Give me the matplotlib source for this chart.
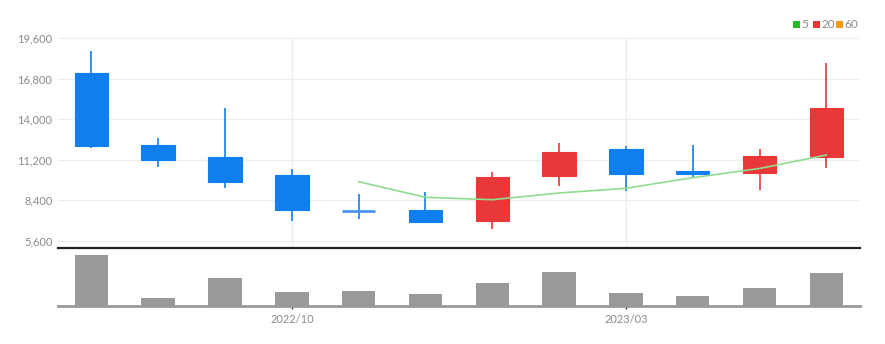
import matplotlib
matplotlib.use("Agg")
import matplotlib.pyplot as plt
from matplotlib.patches import Rectangle

months = ["2022/07", "2022/08", "2022/09", "2022/10", "2022/11", "2022/12",
          "2023/01", "2023/02", "2023/03", "2023/04", "2023/05", "2023/06"]
opens  = [17165, 12241, 11414, 10130, 7700, 7758, 6958, 10082, 11944, 10406, 10289, 11372]
closes = [12172, 11186, 9648, 7737, 7650, 6889, 10034, 11758, 10241, 10200, 11441, 14772]
highs  = [18724, 12724, 14793, 10565, 8820, 9000, 10358, 12379, 12151, 12200, 11944, 17896]
lows   = [12034, 10724, 9234, 7000, 7096, 6820, 6406, 9393, 9048, 9965, 9117, 10655]
ma5    = [None, None, None, None, 9689, 8613, 8447, 8910, 9234, 9965, 10600, 11531]
volumes = [1530, 250, 830, 410, 450, 350, 690, 1020, 400, 290, 550, 1000]
y_ticks = [5600, 8400, 11200, 14000, 16800, 19600]
x_tick_labels = {3: "2022/10", 8: "2023/03"}
legend_labels = ["5", "20", "60"]
legend_colors = ["#22bb22", "#ee3333", "#f39c12"]

plt.rcParams['font.family'] = ['Lato', 'DejaVu Sans']

UP = "#e8383a"
DOWN = "#0f7ff0"
TXT = "#8a8a8a"

FW, FH = 885, 344
fig = plt.figure(figsize=(FW / 100, FH / 100), dpi=100)
axp = fig.add_axes([0.0655, 0.282, 0.906, 0.6076])
axv = fig.add_axes([0.0655, 0.110, 0.906, 0.169])

n = len(opens)
w = 0.5
for i in range(n):
    o, c, h, l = opens[i], closes[i], highs[i], lows[i]
    col = UP if c >= o else DOWN
    axp.vlines(i, l, h, color=col, linewidth=1.2, zorder=3)
    bot = min(o, c)
    hgt = abs(c - o)
    if hgt < 60:
        axp.hlines((o + c) / 2, i - w / 2, i + w / 2, color="#4d94ee", linewidth=2, zorder=3)
    else:
        axp.add_patch(Rectangle((i - w / 2, bot), w, hgt, facecolor=col,
                                edgecolor=col, linewidth=0.8, zorder=4))

xs = [i for i in range(n) if ma5[i] is not None]
ys = [ma5[i] for i in xs]
axp.plot(xs, ys, color="#8fdc8f", linewidth=1.2, zorder=5)

axp.set_xlim(-0.5, 11.5)
axp.set_ylim(5186, 19600)
axp.set_yticks(y_ticks)
axp.set_yticklabels([f"{v:,}" for v in y_ticks], color=TXT, fontsize=8)
axp.set_xticks(list(x_tick_labels.keys()))
axp.set_xticklabels([])
axp.tick_params(axis="both", length=0, pad=4)
axp.grid(True, color="#eeeeee", linewidth=1)
axp.set_axisbelow(True)
for s in axp.spines.values():
    s.set_visible(False)

axv.bar(range(n), volumes, width=w, color="#999999", zorder=3)
axv.set_xlim(-0.5, 11.5)
axv.set_ylim(0, 1740)
axv.set_yticks([])
axv.set_xticks(list(x_tick_labels.keys()))
axv.set_xticklabels(list(x_tick_labels.values()), color=TXT, fontsize=8)
axv.tick_params(axis="x", length=4, width=1, color="#333333", pad=4, direction="inout")
for k in ["left", "right"]:
    axv.spines[k].set_visible(False)
axv.spines["top"].set_color("#222222")
axv.spines["top"].set_linewidth(1.6)
axv.spines["bottom"].set_color("#999999")
axv.spines["bottom"].set_linewidth(2)

# legend at top right (pixel positions converted to figure fraction)
sq_x = [793, 813, 836]
tx_x = [801.5, 821.5, 844.5]
yc = 24.3
sq = 7
for lab, colr, sx, tx in zip(legend_labels, legend_colors, sq_x, tx_x):
    fig.patches.append(Rectangle((sx / FW, 1 - (yc + sq / 2) / FH), sq / FW, sq / FH,
                                 facecolor=colr, edgecolor="none",
                                 transform=fig.transFigure, figure=fig))
    fig.text(tx / FW, 1 - yc / FH, lab, color=TXT, fontsize=8.5, va="center", ha="left")

fig.savefig("out.png", dpi=100)
